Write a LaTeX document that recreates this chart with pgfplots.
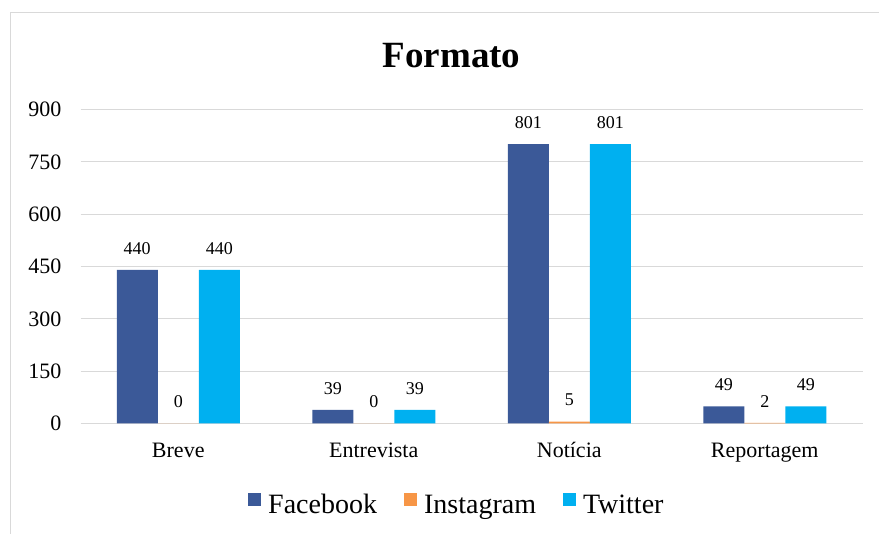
\documentclass[border=0pt]{standalone}
\usepackage{fontspec}
\setmainfont{Liberation Serif}
\usepackage{pgfplots}
\pgfplotsset{compat=1.18}
\definecolor{fb}{HTML}{3B5998}
\definecolor{ig}{HTML}{F79646}
\definecolor{tw}{HTML}{00B0F0}
\definecolor{gridc}{HTML}{D9D9D9}
\begin{document}
\begin{tikzpicture}[x=1pt,y=1pt]
\path[use as bounding box] (0,0) rectangle (879,534);
\draw[gridc, line width=1pt] (10,0) -- (10,521) -- (879,521);
\node[font=\rmfamily\fontsize{37}{40}\selectfont\bfseries] at (451.5,478) {Formato};
\begin{axis}[
    at={(80.5pt,110.5pt)}, anchor=south west,
    scale only axis, width=782pt, height=314pt,
    ybar=0pt, bar width=41pt,
    xmin=-0.5, xmax=3.5, ymin=0, ymax=900,
    xtick={0,1,2,3},
    xticklabels={Breve,Entrevista,Notícia,Reportagem},
    ytick={0,150,...,900},
    ymajorgrids=true,
    grid style={gridc, line width=1.2pt},
    axis line style={draw=none},
    major tick length=0pt,
    clip=false,
    /pgf/number format/assume math mode=true,
    xticklabel style={font=\rmfamily\fontsize{22}{24}\selectfont, anchor=base, inner sep=0pt, yshift=-34.5pt},
    yticklabel style={font=\rmfamily\fontsize{22}{24}\selectfont, anchor=east, inner sep=0pt, xshift=-19pt},
    nodes near coords,
    every node near coord/.append style={font=\rmfamily\fontsize{18}{20}\selectfont, anchor=south, inner sep=0pt, yshift=15.5pt},
    legend columns=3,
    legend style={at={(0.48,-0.256)}, anchor=center, draw=none,
        font=\rmfamily\fontsize{28}{30}\selectfont, nodes={inner sep=0pt},
        /tikz/every odd column/.append style={column sep=7pt},
        /tikz/every even column/.append style={column sep=27pt}},
    legend image code/.code={\fill[#1] (0pt,-1pt) rectangle (13pt,12pt);},
]
\addplot[fill=fb, draw=none] coordinates {(0,440) (1,39) (2,801) (3,49)};
\addplot[fill=ig, draw=none] coordinates {(0,0) (1,0) (2,5) (3,2)};
\addplot[fill=tw, draw=none] coordinates {(0,440) (1,39) (2,801) (3,49)};
\legend{Facebook,Instagram,Twitter}
\end{axis}
\end{tikzpicture}
\end{document}
